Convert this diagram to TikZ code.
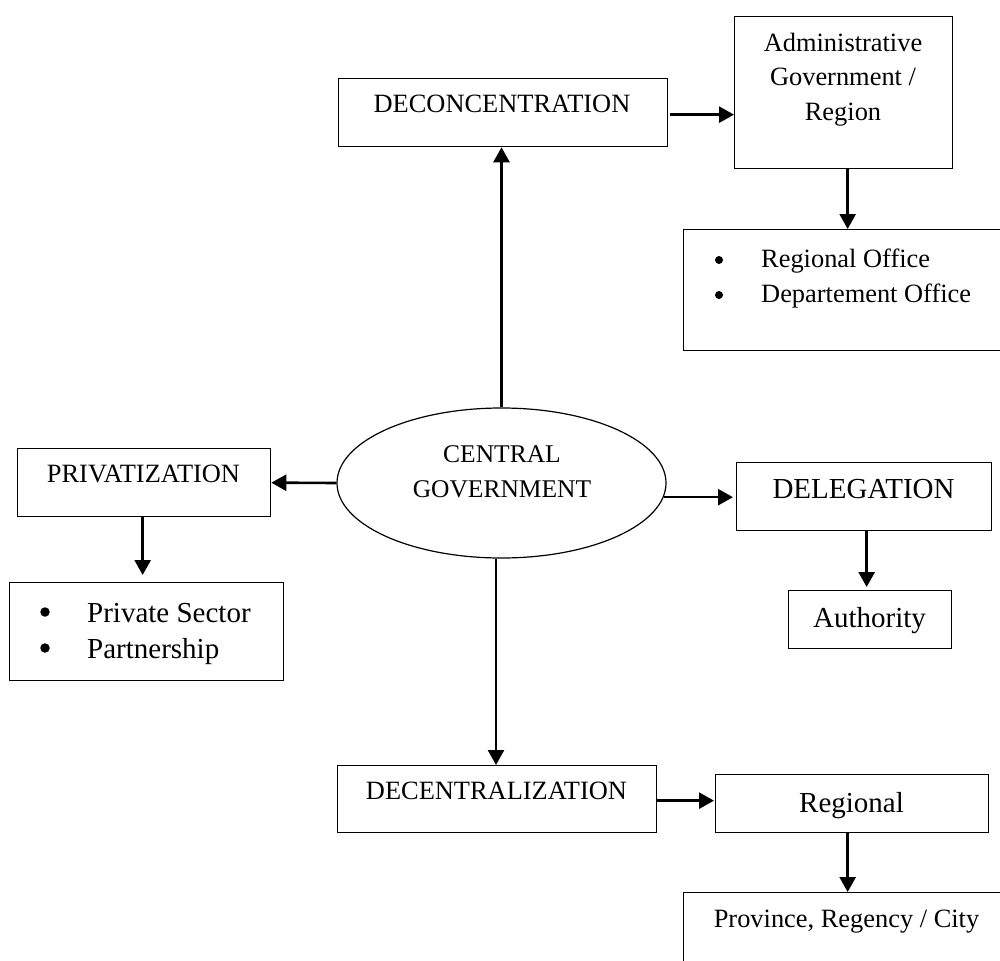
\documentclass[tikz,border=0pt]{standalone}
\usepackage{fontspec}
\setmainfont{Liberation Serif}
\usetikzlibrary{arrows.meta,shapes.geometric}
\begin{document}
\begin{tikzpicture}[x=1pt,y=-1pt,
  box/.style={draw, line width=1.3pt, inner sep=0pt, anchor=north west},
  arr/.style={line width=2.6pt, -{Triangle[length=15pt,width=16pt]}},
  txt/.style={anchor=base, inner sep=0pt},
  ltxt/.style={anchor=base west, inner sep=0pt},
  dot/.style={circle, fill, inner sep=0pt, minimum size=#1},
  small/.style={font=\fontsize{26.4}{34}\selectfont},
  large/.style={font=\fontsize{29}{36}\selectfont},
  oval/.style={font=\fontsize{25.5}{34}\selectfont}]
\useasboundingbox (0,0) rectangle (1000,960);

% central ellipse
\node[draw, ellipse, line width=1.2pt, minimum width=329pt, minimum height=150pt, inner sep=0pt] (cg) at (501.5,483) {};
\node[txt, oval] (cgA) at (502,462) {CENTRAL};
\node[txt, oval] (cgB) at (502,497) {GOVERNMENT};

% frames
\node[box, minimum width=329pt, minimum height=68pt] (deco) at (338,78) {};
\node[box, minimum width=218pt, minimum height=152pt] (admin) at (734,16) {};
\node[box, minimum width=340pt, minimum height=121pt] (roff) at (683,229) {};
\node[box, minimum width=253pt, minimum height=68pt] (priv) at (17,448) {};
\node[box, minimum width=274pt, minimum height=98pt] (psec) at (9,582) {};
\node[box, minimum width=255pt, minimum height=68pt] (deleg) at (736,462) {};
\node[box, minimum width=163pt, minimum height=58pt] (auth) at (788,590) {};
\node[box, minimum width=319pt, minimum height=67pt] (decen) at (337,765) {};
\node[box, minimum width=273pt, minimum height=58pt] (reg) at (715,774) {};
\node[box, minimum width=330pt, minimum height=100pt] (prov) at (683,892) {};

% labels
\node[txt, small] (decoT) at (502,113) {DECONCENTRATION};
\node[txt, small] (adminA) at (843,52) {Administrative};
\node[txt, small] (adminB) at (843,86) {Government /};
\node[txt, small] (adminC) at (843,121) {Region};
\node[dot=8pt] (roffB1) at (719,260) {};
\node[ltxt, small] (roffA) at (761,267) {Regional Office};
\node[dot=8pt] (roffB2) at (719,295) {};
\node[ltxt, small] (roffB) at (761,302) {Departement Office};
\node[txt, small] (privT) at (143.5,482) {PRIVATIZATION};
\node[dot=9.5pt] (psecB1) at (45,612) {};
\node[ltxt, large] (psecA) at (87,622) {Private Sector};
\node[dot=9.5pt] (psecB2) at (45,648) {};
\node[ltxt, large] (psecB) at (87,658) {Partnership};
\node[txt, large] (delegT) at (863.5,498) {DELEGATION};
\node[txt, large] (authT) at (869.5,627) {Authority};
\node[txt, small] (decenT) at (496.5,799) {DECENTRALIZATION};
\node[txt, large] (regT) at (851.5,812) {Regional};
\node[txt, small] (provT) at (846.5,927) {Province, Regency / City};

% connectors
\draw[arr] (cg.north) -- (cg.north |- deco.south);
\draw[arr, shorten <=2pt] ([yshift=-2pt]deco.east) -- ([yshift=-2pt]deco.east -| admin.west);
\draw[arr] ([xshift=4pt]admin.south) -- ([xshift=4pt]admin.south |- roff.north);
\draw[arr] (cg.west) -- (priv.east);
\draw[arr, shorten >=7pt] ([xshift=-1.5pt]priv.south) -- ([xshift=-1.5pt]priv.south |- psec.north);
\draw[arr, shorten >=3pt] (cg.-5) -- (cg.-5 -| deleg.west);
\draw[arr, shorten >=3pt] ([xshift=2.5pt]deleg.south) -- ([xshift=2.5pt]deleg.south |- auth.north);
\draw[arr] ([xshift=-5.5pt]cg.south) -- ([xshift=-5.5pt]cg.south |- decen.north);
\draw[arr, shorten >=1pt] ([yshift=-1.5pt]decen.east) -- ([yshift=-1.5pt]decen.east -| reg.west);
\draw[arr] ([xshift=-4.5pt]reg.south) -- ([xshift=-4.5pt]reg.south |- prov.north);
\end{tikzpicture}
\end{document}
